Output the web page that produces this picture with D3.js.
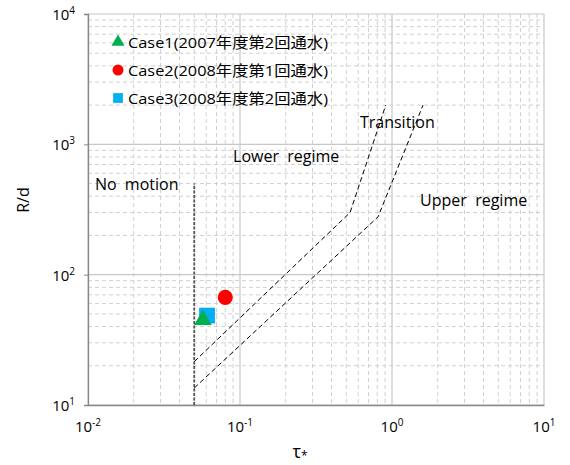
<!DOCTYPE html>
<html>
<head>
<meta charset="utf-8">
<script src="https://cdn.jsdelivr.net/npm/d3@7"></script>
<style>
  body { margin: 0; background: #fff; }
  text { font-family: "Open Sans", "Noto Sans CJK JP", sans-serif; fill: #000; white-space: pre; }
</style>
</head>
<body>
<div id="vis"></div>
<script>
const FRAME_WIDTH = 570;
const FRAME_HEIGHT = 465;
const MARGINS = {left: 88, right: 26, top: 14, bottom: 60};

const VIS_WIDTH = FRAME_WIDTH - MARGINS.left - MARGINS.right;
const VIS_HEIGHT = FRAME_HEIGHT - MARGINS.top - MARGINS.bottom;

// data
const caseNames = ["Case1(2007年度第2回通水)", "Case2(2008年度第1回通水)", "Case3(2008年度第2回通水)"];
const caseTau = [0.057, 0.080, 0.0607];
const caseRd = [45, 67, 48.5];
const caseColors = ["#00B050", "#FF0000", "#00B0F0"];
const caseShapes = [d3.symbolTriangle, d3.symbolCircle, d3.symbolSquare];
const drawOrder = [2, 1, 0];

const noMotionTau = [0.05, 0.05];
const noMotionRd = [10, 500];

const upperLineTau = [0.05, 0.53, 0.91];
const upperLineRd = [21.5, 300, 2000];
const lowerLineTau = [0.05, 0.81, 1.6];
const lowerLineRd = [13.5, 278, 2000];

const regionLabels = ["No  motion", "Lower  regime", "Transition", "Upper  regime"];
const regionTau = [0.0111, 0.090, 0.615, 1.53];
const regionRd = [450, 730, 1330, 335];

const xTickExp = [-2, -1, 0, 1];
const yTickExp = [1, 2, 3, 4];

const FRAME = d3.select("#vis")
  .append("svg")
    .attr("width", FRAME_WIDTH)
    .attr("height", FRAME_HEIGHT);

const X_SCALE = d3.scaleLog().domain([0.01, 10]).range([0, VIS_WIDTH]);
const Y_SCALE = d3.scaleLog().domain([10, 10000]).range([VIS_HEIGHT, 0]);

const G = FRAME.append("g")
  .attr("transform", "translate(" + MARGINS.left + "," + MARGINS.top + ")");

// minor grid (dashed)
let minorX = [], minorY = [];
for (let e = -2; e < 1; e++) for (let m = 2; m <= 9; m++) minorX.push(m * Math.pow(10, e));
for (let e = 1; e < 4; e++) for (let m = 2; m <= 9; m++) minorY.push(m * Math.pow(10, e));

G.selectAll(".minorx").data(minorX).enter().append("line")
  .attr("x1", d => X_SCALE(d)).attr("x2", d => X_SCALE(d))
  .attr("y1", 0).attr("y2", VIS_HEIGHT)
  .attr("stroke", "#d0d0d0").attr("stroke-dasharray", "4,3");
G.selectAll(".minory").data(minorY).enter().append("line")
  .attr("x1", 0).attr("x2", VIS_WIDTH)
  .attr("y1", d => Y_SCALE(d)).attr("y2", d => Y_SCALE(d))
  .attr("stroke", "#d0d0d0").attr("stroke-dasharray", "4,3");

// major grid
G.selectAll(".majorx").data(xTickExp).enter().append("line")
  .attr("x1", d => X_SCALE(Math.pow(10, d))).attr("x2", d => X_SCALE(Math.pow(10, d)))
  .attr("y1", 0).attr("y2", VIS_HEIGHT)
  .attr("stroke", "#c8c8c8").attr("stroke-width", 1.2);
G.selectAll(".majory").data(yTickExp).enter().append("line")
  .attr("x1", 0).attr("x2", VIS_WIDTH)
  .attr("y1", d => Y_SCALE(Math.pow(10, d))).attr("y2", d => Y_SCALE(Math.pow(10, d)))
  .attr("stroke", "#c8c8c8").attr("stroke-width", 1.2);

// axes
const xAxis = G.append("g")
  .attr("transform", "translate(0," + VIS_HEIGHT + ")")
  .call(d3.axisBottom(X_SCALE).tickValues(xTickExp.map(e => Math.pow(10, e))).tickSize(0).tickFormat(""));
const yAxis = G.append("g")
  .call(d3.axisLeft(Y_SCALE).tickValues(yTickExp.map(e => Math.pow(10, e))).tickSize(4).tickFormat(""));
[xAxis, yAxis].forEach(a => {
  a.select(".domain").attr("stroke", "#888").attr("stroke-width", 1.3);
  a.selectAll(".tick line").attr("stroke", "#888");
});

// tick labels with superscripts
xTickExp.forEach(e => {
  const t = G.append("text")
    .attr("x", X_SCALE(Math.pow(10, e)))
    .attr("y", VIS_HEIGHT + 27)
    .attr("text-anchor", "middle")
    .attr("font-size", 15);
  t.append("tspan").text("10");
  t.append("tspan").attr("dy", -6).attr("font-size", 10).text(e);
});
yTickExp.forEach(e => {
  const t = G.append("text")
    .attr("x", -13)
    .attr("y", Y_SCALE(Math.pow(10, e)) + 6)
    .attr("text-anchor", "end")
    .attr("font-size", 15);
  t.append("tspan").text("10");
  t.append("tspan").attr("dy", -6).attr("font-size", 10).text(e);
});

// axis titles
FRAME.append("text")
  .attr("transform", "translate(29,200) rotate(-90)")
  .attr("text-anchor", "middle").attr("font-size", 16)
  .text("R/d");
const xt = FRAME.append("text")
  .attr("x", 300).attr("y", 458)
  .attr("text-anchor", "middle").attr("font-size", 18);
xt.append("tspan").text("τ");
xt.append("tspan").attr("dy", 2).attr("font-size", 12).text("*");

// region lines
const line = d3.line().x(d => X_SCALE(d[0])).y(d => Y_SCALE(d[1]));
G.append("path")
  .attr("d", line(noMotionTau.map((t, i) => [t, noMotionRd[i]])))
  .attr("fill", "none").attr("stroke", "#555").attr("stroke-width", 1.8).attr("stroke-dasharray", "3,1.5");
[[upperLineTau, upperLineRd], [lowerLineTau, lowerLineRd]].forEach(([ts, rs]) => {
  G.append("path")
    .attr("d", line(ts.map((t, i) => [t, rs[i]])))
    .attr("fill", "none").attr("stroke", "#000").attr("stroke-width", 1).attr("stroke-dasharray", "5,3");
});

// region labels
G.selectAll(".region").data(regionLabels).enter().append("text")
  .attr("x", (d, i) => X_SCALE(regionTau[i]))
  .attr("y", (d, i) => Y_SCALE(regionRd[i]))
  .attr("font-size", 16)
  .text(d => d);

// points (square behind triangle)
const pointSize = [135, 180, 250];
G.selectAll(".point").data(drawOrder).enter().append("path")
  .attr("transform", i => "translate(" + X_SCALE(caseTau[i]) + "," + Y_SCALE(caseRd[i]) + ")")
  .attr("d", i => d3.symbol().type(caseShapes[i]).size(pointSize[i])())
  .attr("fill", i => caseColors[i]);

// legend
caseNames.forEach((name, i) => {
  const y = 28 + i * 28;
  G.append("path")
    .attr("transform", "translate(" + 30 + "," + y + ")")
    .attr("d", d3.symbol().type(caseShapes[i]).size(i === 0 ? 75 : 95)())
    .attr("fill", caseColors[i]);
  G.append("text")
    .attr("x", 40).attr("y", y + 6)
    .attr("font-size", 15)
    .attr("textLength", 200)
    .attr("lengthAdjust", "spacingAndGlyphs")
    .text(name);
});
</script>
</body>
</html>
